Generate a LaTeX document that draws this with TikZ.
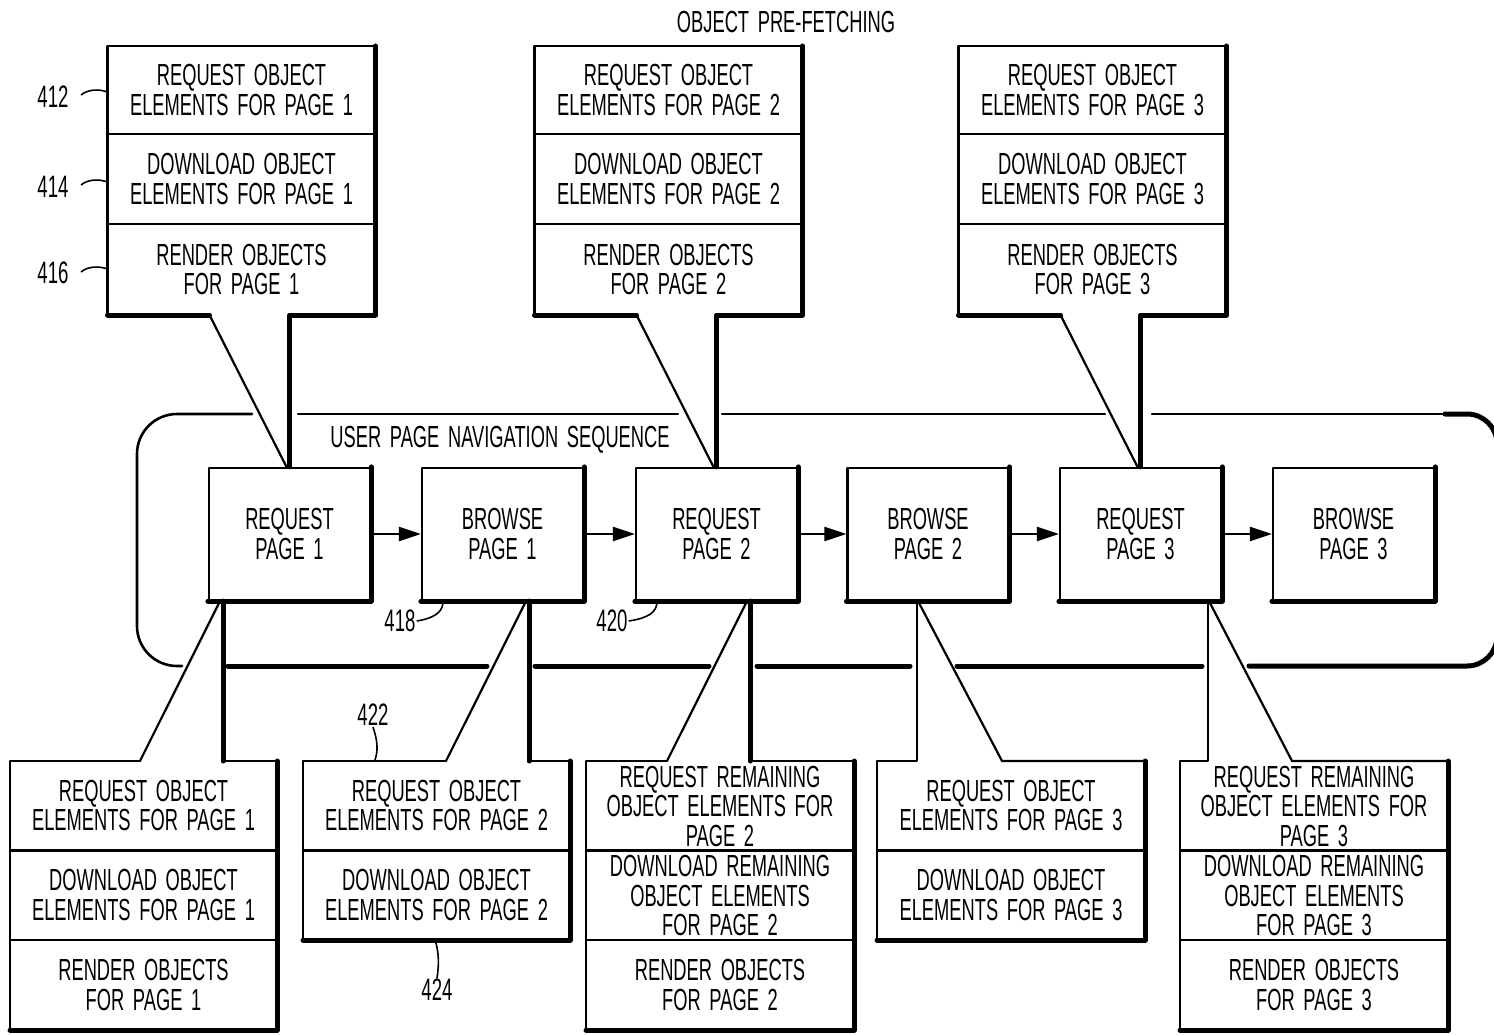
\documentclass[tikz,border=0pt]{standalone}
\usepackage{fontspec}
\setmainfont{Liberation Sans}[FakeStretch=0.6,WordSpace=1.7]
\usetikzlibrary{arrows.meta,calc}

\tikzset{
 thinln/.style={line width=2.2pt, line cap=round, line join=round},
 thickln/.style={line width=5pt, line cap=round, line join=round},
 txt/.style={align=center, font=\fontsize{30.5}{29.5}\selectfont, inner sep=0pt},
 pagebox/.style={draw, thinln, minimum width=161pt, minimum height=132pt, txt},
 flow/.style={line width=2.2pt, -{Triangle[length=22pt,width=14pt]}},
 leader/.style={line width=1.6pt},
 lbl/.style={font=\fontsize{31}{31}\selectfont, inner sep=1pt},
}

\newcommand\topcallout[3]{% #1 page, #2 x of attach point, #3 target node
 \pgfmathsetmacro\cL{#2-182}\pgfmathsetmacro\cR{#2+86}%
 \pgfmathsetmacro\cS{#2-80}\pgfmathsetmacro\cC{#2-48}%
 \node[txt] (tr#1) at (\cC,90) {REQUEST OBJECT\\ELEMENTS FOR PAGE #1};
 \node[txt] (td#1) at (\cC,179) {DOWNLOAD OBJECT\\ELEMENTS FOR PAGE #1};
 \node[txt] (tn#1) at (\cC,269.5) {RENDER OBJECTS\\FOR PAGE #1};
 \draw[thinln] (\cL,134) -- (\cR,134) (\cL,224) -- (\cR,224);
 \draw[thinln] (\cL,315) -- (\cL,46) -- (\cR,46);
 \draw[thickln] (\cR,46) -- (\cR,315) -- (#2,315) -- (#3.north);
 \draw[thickln] (\cL,315) -- (\cS,315);
 \draw[thinln] (\cS,315) -- ($(#3.north)+(-3,0)$);
}
% bottom callout, vertical on the right side
\newcommand\botright[7]{%
 \draw[thinln] (#4,761) -- (#1,761) -- (#1,#5);
 \draw[thickln] (#1,#5) -- (#2,#5) -- (#2,761);
 \draw[thinln] (#2,761) -- (#3,761);
 \draw[thickln] (#3,761) -- (#3,0 |- #6.south);
 \draw[thinln] (#4,761) -- (#7,0 |- #6.south);
}
% bottom callout, vertical on the left side
\newcommand\botleft[7]{%
 \draw[thinln] (#3,0 |- #6.south) -- (#3,761) -- (#1,761) -- (#1,#5);
 \draw[thickln] (#1,#5) -- (#2,#5) -- (#2,761);
 \draw[thinln] (#2,761) -- (#4,761) -- (#7,0 |- #6.south);
}

\begin{document}
\begin{tikzpicture}[x=1pt,y=-1pt]
\useasboundingbox (0,0) rectangle (1494,1035);
\fill[white] (0,0) rectangle (1494,1035);

% titles
\node[txt] (title) at (786,22) {OBJECT PRE-FETCHING};
\node[txt] (nav) at (500,440) {USER PAGE NAVIGATION SEQUENCE};

% navigation sequence frame
\draw[line width=2.6pt, line cap=round, rounded corners=40] (252,414) -- (137,414) -- (137,666) -- (182,666);
\draw[thinln] (298,414) -- (678,414);
\draw[thinln] (722,414) -- (1105,414);
\draw[thinln] (1152,414) -- (1450,414);
\draw[thickln, rounded corners=30] (1445,414) -- (1497,414) -- (1497,666) -- (1249,666);
\draw[thickln] (228,666) -- (487,666);
\draw[thickln] (535,666) -- (709,666);
\draw[thickln] (757,666) -- (910,666);
\draw[thickln] (957,666) -- (1202,666);

% page boxes
\node[pagebox] (rp1) at (289.5,534) {REQUEST\\PAGE 1};
\node[pagebox] (bp1) at (502.5,534) {BROWSE\\PAGE 1};
\node[pagebox] (rp2) at (716.5,534) {REQUEST\\PAGE 2};
\node[pagebox] (bp2) at (928,534) {BROWSE\\PAGE 2};
\node[pagebox] (rp3) at (1140.5,534) {REQUEST\\PAGE 3};
\node[pagebox] (bp3) at (1353.5,534) {BROWSE\\PAGE 3};
\foreach \n in {rp1,bp1,rp2,bp2,rp3,bp3}
  \draw[thickln] (\n.north east) -- (\n.south east) -- (\n.south west);

\draw[flow] (rp1) -- (bp1);
\draw[flow] (bp1) -- (rp2);
\draw[flow] (rp2) -- (bp2);
\draw[flow] (bp2) -- (rp3);
\draw[flow] (rp3) -- (bp3);

% top callouts
\topcallout{1}{289.5}{rp1}
\topcallout{2}{716.5}{rp2}
\topcallout{3}{1140.5}{rp3}

% bottom callouts
\botright{10}{277}{223}{140}{1030}{rp1}{220}
\botright{303}{570}{529}{446}{940}{bp1}{526}
\botright{586}{854}{750}{667}{1030}{rp2}{747}
\botleft{877}{1145}{917}{1002}{940}{bp2}{918}
\botleft{1180}{1448}{1208}{1292}{1030}{rp3}{1209}

% dividers
\draw[thinln] (10,850.5) -- (277,850.5) (10,940) -- (277,940);
\draw[thinln] (303,850.5) -- (570,850.5);
\draw[thinln] (586,850.5) -- (854,850.5) (586,940) -- (854,940);
\draw[thinln] (877,850.5) -- (1145,850.5);
\draw[thinln] (1180,850.5) -- (1448,850.5) (1180,940) -- (1448,940);

% bottom texts
\node[txt] (bq1) at (143.5,805.5) {REQUEST OBJECT\\ELEMENTS FOR PAGE 1};
\node[txt] (bd1) at (143.5,895) {DOWNLOAD OBJECT\\ELEMENTS FOR PAGE 1};
\node[txt] (bn1) at (143.5,985) {RENDER OBJECTS\\FOR PAGE 1};
\node[txt] (bq2) at (436.5,805.5) {REQUEST OBJECT\\ELEMENTS FOR PAGE 2};
\node[txt] (bd2) at (436.5,895) {DOWNLOAD OBJECT\\ELEMENTS FOR PAGE 2};
\node[txt] (bq3) at (720,806) {REQUEST REMAINING\\OBJECT ELEMENTS FOR\\PAGE 2};
\node[txt] (bd3) at (720,895.5) {DOWNLOAD REMAINING\\OBJECT ELEMENTS\\FOR PAGE 2};
\node[txt] (bn3) at (720,985) {RENDER OBJECTS\\FOR PAGE 2};
\node[txt] (bq4) at (1011,805.5) {REQUEST OBJECT\\ELEMENTS FOR PAGE 3};
\node[txt] (bd4) at (1011,895) {DOWNLOAD OBJECT\\ELEMENTS FOR PAGE 3};
\node[txt] (bq5) at (1314,806) {REQUEST REMAINING\\OBJECT ELEMENTS FOR\\PAGE 3};
\node[txt] (bd5) at (1314,895.5) {DOWNLOAD REMAINING\\OBJECT ELEMENTS\\FOR PAGE 3};
\node[txt] (bn5) at (1314,985) {RENDER OBJECTS\\FOR PAGE 3};

% reference labels
\node[lbl] (l412) at (53,97) {412};
\node[lbl] (l414) at (53,187) {414};
\node[lbl] (l416) at (53,273) {416};
\node[lbl] (l418) at (400,621) {418};
\node[lbl] (l420) at (612,621) {420};
\node[lbl] (l422) at (373,715) {422};
\node[lbl] (l424) at (437,990) {424};
\coordinate (e412) at (107,92);
\coordinate (e414) at (107,182);
\coordinate (e416) at (107,269);
\coordinate (e418) at (443,603);
\coordinate (e420) at (657,603);
\coordinate (e422) at (375,760);
\coordinate (e424) at (436,943);
\draw[leader] (81,95) .. controls (88,89) and (100,89) .. (e412);
\draw[leader] (81,185) .. controls (88,179) and (100,179) .. (e414);
\draw[leader] (81,272) .. controls (88,266) and (100,266) .. (e416);
\draw[leader] (l418.east) .. controls (435,618) and (442,612) .. (e418);
\draw[leader] (l420.east) .. controls (649,618) and (656,612) .. (e420);
\draw[leader] (l422.south) .. controls (378,742) and (378,751) .. (e422);
\draw[leader] (e424) .. controls (439,955) and (439,965) .. (l424.north);
\end{tikzpicture}
\end{document}
